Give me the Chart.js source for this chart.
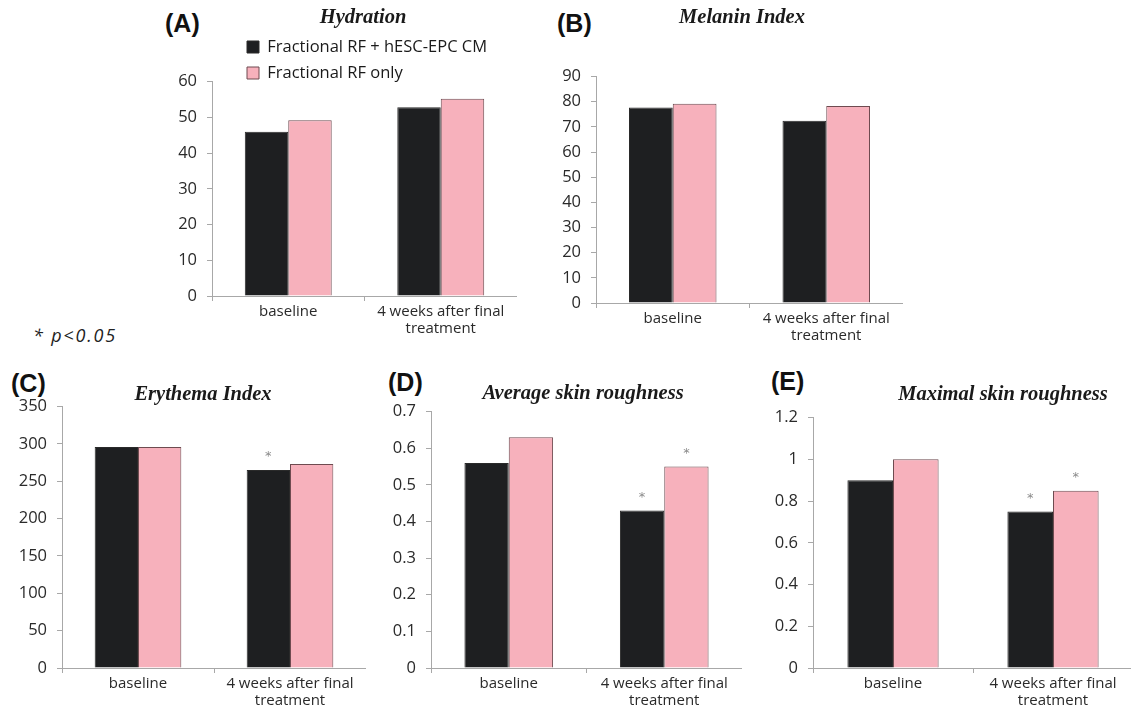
<!DOCTYPE html>
<html>
<head>
<meta charset="utf-8">
<script src="https://cdn.jsdelivr.net/npm/chart.js@4.4.1/dist/chart.umd.min.js"></script>
<style>
html, body { margin: 0; padding: 0; background: #fff; overflow: hidden; width: 1131px; height: 710px; }
.box { position: absolute; }
.tag { position: absolute; font: bold 25px "Liberation Sans", Arial, sans-serif; line-height: 1; color: #111; }
#note { position: absolute; left: 33px; top: 326px; font: italic 18px "Open Sans", sans-serif; line-height: 1; letter-spacing: 1.8px; color: #222; }
</style>
</head>
<body>
<div class="tag" style="left:165px;top:11px">(A)</div>
<div class="tag" style="left:557px;top:11px">(B)</div>
<div class="tag" style="left:11px;top:371px">(C)</div>
<div class="tag" style="left:388px;top:370px">(D)</div>
<div class="tag" style="left:771px;top:369px">(E)</div>
<div id="note">* p&lt;0.05</div>
<script>
const categories = ['baseline', ['4 weeks after final', 'treatment']];
const seriesNames = ['Fractional RF + hESC-EPC CM', 'Fractional RF only'];

const hydrationCombo = [46, 52.8];
const hydrationRfOnly = [49.2, 55.2];

const melaninCombo = [77.7, 72.4];
const melaninRfOnly = [79.2, 78.3];

const erythemaCombo = [296, 265];
const erythemaRfOnly = [296, 273];
const erythemaComboStars = [false, true];
const erythemaRfOnlyStars = [false, false];

const avgRoughCombo = [0.56, 0.43];
const avgRoughRfOnly = [0.63, 0.55];
const avgRoughComboStars = [false, true];
const avgRoughRfOnlyStars = [false, true];

const maxRoughCombo = [0.9, 0.75];
const maxRoughRfOnly = [1.0, 0.85];
const maxRoughComboStars = [false, true];
const maxRoughRfOnlyStars = [false, true];

const W = 60;   // y axis width
const H = 48;   // x axis height
const axisGray = '#a8a8a8';
const dark = '#1e1f21';
const pink = '#f7b1bc';
const legendSize = 16.5;

// moves title / legend to fixed page positions after layout
const nudge = {
    id: 'nudge',
    afterLayout(chart, args, opts) {
        const ox = chart.canvas.parentNode.offsetLeft;
        const oy = chart.canvas.parentNode.offsetTop;
        const t = chart.titleBlock;
        if (t && opts.title) {
            t.left = opts.title[0] - ox - 200;
            t.right = t.left + 400;
            t.width = 400;
            const h = t.height;
            t.top = opts.title[1] - oy - h / 2;
            t.bottom = t.top + h;
        }
        const lg = chart.legend;
        if (lg && opts.legend) {
            const pad = lg.options.labels.padding;
            const dx = opts.legend[0] - ox - pad - lg.left;
            const dy = opts.legend[1] - oy - pad - legendSize / 2 - lg.top;
            lg.left += dx; lg.right += dx;
            lg.top += dy; lg.bottom += dy;
        }
    }
};

// small gray asterisks above significant bars
const stars = {
    id: 'stars',
    afterDatasetsDraw(chart) {
        const ctx = chart.ctx;
        ctx.save();
        ctx.fillStyle = '#8a8a8a';
        ctx.font = '13px "DejaVu Sans"';
        ctx.textAlign = 'center';
        ctx.textBaseline = 'middle';
        chart.data.datasets.forEach((ds, i) => {
            const meta = chart.getDatasetMeta(i);
            (ds.stars || []).forEach((on, j) => {
                if (!on) return;
                const bar = meta.data[j];
                ctx.fillText('*', bar.x, bar.y - 13);
            });
        });
        ctx.restore();
    }
};

function makePanel(p) {
    const left = p.axisX - W;
    const top = Math.min(p.areaTop - 30, p.titleY - 14);
    const div = document.createElement('div');
    div.className = 'box';
    div.style.left = left + 'px';
    div.style.top = top + 'px';
    div.style.width = (p.areaRight - left) + 'px';
    div.style.height = (p.areaBottom - top + H) + 'px';
    const canvas = document.createElement('canvas');
    div.appendChild(canvas);
    document.body.appendChild(div);

    new Chart(canvas, {
        type: 'bar',
        data: {
            labels: categories,
            datasets: [{
                label: seriesNames[0],
                data: p.combo,
                backgroundColor: dark,
                borderColor: '#2a2a2a',
                borderWidth: 1,
                stars: p.comboStars
            }, {
                label: seriesNames[1],
                data: p.rfOnly,
                backgroundColor: pink,
                borderColor: '#6e4b50',
                borderWidth: 1,
                stars: p.rfOnlyStars
            }]
        },
        options: {
            responsive: true,
            maintainAspectRatio: false,
            animation: false,
            categoryPercentage: 0.57,
            barPercentage: 1.0,
            layout: { padding: { top: p.areaTop - top - 24, left: 0, right: 0, bottom: 0 } },
            plugins: {
                title: {
                    display: true,
                    text: p.title,
                    fullSize: false,
                    padding: 0,
                    color: '#1a1a1a',
                    font: { family: '"Liberation Serif", "Times New Roman", serif', size: 20.5, style: 'italic', weight: 'bold', lineHeight: 1.2 }
                },
                legend: {
                    display: !!p.legend,
                    position: 'chartArea',
                    align: 'start',
                    labels: {
                        boxWidth: 12,
                        boxHeight: 12,
                        padding: 9.5,
                        color: '#1a1a1a',
                        font: { family: '"Open Sans", sans-serif', size: legendSize }
                    }
                },
                tooltip: { enabled: false },
                nudge: { title: [p.titleX, p.titleY], legend: p.legend }
            },
            scales: {
                x: {
                    grid: { offset: true, drawOnChartArea: false, tickLength: 5, color: axisGray },
                    border: { color: axisGray },
                    ticks: {
                        maxRotation: 0,
                        autoSkip: false,
                        padding: 3,
                        color: '#2a2a2a',
                        font: { family: '"Open Sans", sans-serif', size: 15, lineHeight: 1.08 }
                    },
                    afterFit: s => { s.height = H; }
                },
                y: {
                    min: 0,
                    max: p.max,
                    grid: { drawOnChartArea: false, tickLength: 5, color: axisGray },
                    border: { color: axisGray },
                    ticks: {
                        stepSize: p.step,
                        padding: 10,
                        color: '#2a2a2a',
                        font: { family: '"Open Sans", sans-serif', size: 16.5 },
                        callback: v => String(+v.toFixed(2))
                    },
                    afterFit: s => { s.width = W; }
                }
            }
        },
        plugins: [nudge, stars]
    });
}

makePanel({ title: 'Hydration', titleX: 363, titleY: 18, axisX: 212, areaRight: 517, areaTop: 81, areaBottom: 296,
    max: 60, step: 10, combo: hydrationCombo, rfOnly: hydrationRfOnly, legend: [247, 47] });
makePanel({ title: 'Melanin Index', titleX: 742, titleY: 18, axisX: 596, areaRight: 903, areaTop: 76, areaBottom: 303,
    max: 90, step: 10, combo: melaninCombo, rfOnly: melaninRfOnly });
makePanel({ title: 'Erythema Index', titleX: 203, titleY: 395, axisX: 62, areaRight: 366, areaTop: 406, areaBottom: 668,
    max: 350, step: 50, combo: erythemaCombo, rfOnly: erythemaRfOnly,
    comboStars: erythemaComboStars, rfOnlyStars: erythemaRfOnlyStars });
makePanel({ title: 'Average skin roughness', titleX: 583, titleY: 394, axisX: 431, areaRight: 742, areaTop: 411, areaBottom: 668,
    max: 0.7, step: 0.1, combo: avgRoughCombo, rfOnly: avgRoughRfOnly,
    comboStars: avgRoughComboStars, rfOnlyStars: avgRoughRfOnlyStars });
makePanel({ title: 'Maximal skin roughness', titleX: 1003, titleY: 395, axisX: 813, areaRight: 1133, areaTop: 417, areaBottom: 668,
    max: 1.2, step: 0.2, combo: maxRoughCombo, rfOnly: maxRoughRfOnly,
    comboStars: maxRoughComboStars, rfOnlyStars: maxRoughRfOnlyStars });
</script>
</body>
</html>
